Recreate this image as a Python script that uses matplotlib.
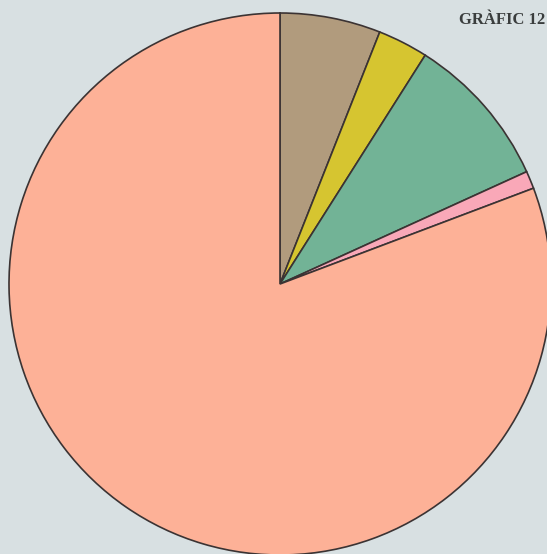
import matplotlib
matplotlib.use("Agg")
import matplotlib.pyplot as plt

categories = ["Marró", "Groc", "Verd", "Rosa", "Salmó"]
values = [6.0, 3.0, 9.2, 1.05, 80.75]
colors = ["#b19b7d", "#d6c530", "#72b396", "#f9a8b8", "#fdb197"]
title = "GRÀFIC 12"

W, H = 547, 554
fig = plt.figure(figsize=(W / 100, H / 100), dpi=100)
fig.patch.set_facecolor("#d8e0e2")
ax = fig.add_axes([0, 0, 1, 1])
ax.set_facecolor("#d8e0e2")

ax.pie(values, colors=colors, startangle=90, counterclock=False,
       center=(280, H - 284), radius=271, frame=True,
       wedgeprops=dict(edgecolor="#3b3333", linewidth=1.2))
ax.set_xlim(0, W)
ax.set_ylim(0, H)
ax.set_aspect("equal")
ax.axis("off")

fig.text(545 / W, 1 - 20 / H, title, ha="right", va="center",
         fontsize=12, fontweight="bold", family="Liberation Serif", color="#3a3d3d")

fig.savefig("out.png", dpi=100, facecolor=fig.get_facecolor())
